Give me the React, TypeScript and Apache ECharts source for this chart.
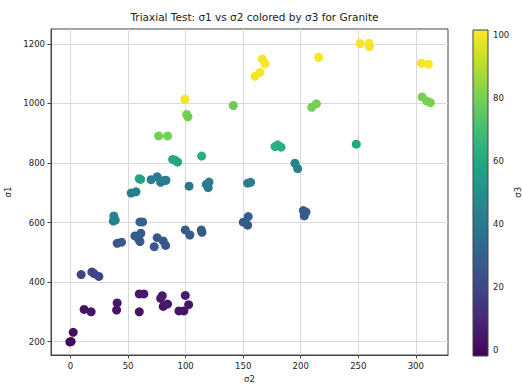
import React, { useEffect, useRef } from "react";
import * as echarts from "echarts";

// Triaxial test results for granite: σ2 (confining, x), σ1 (axial, y), σ3 (colour)
const sigma2: number[] = [
  -0.6, 0.5, 2.3, 11.8, 17.9, 40.5, 40, 59.7, 63.7, 59.7, 78.3, 79.7, 80.5, 84.3, 99.7, 102.6, 94.2, 98.5,
  9.2, 18.5, 20.5, 24.6,
  40.5, 44.3, 55.9, 59.1, 61.1, 60.3, 60.3, 62.6, 75.3, 72.7, 80.5, 82.6, 99.7, 103.7, 113.6, 114.2,
  150.1, 153.9, 154.4, 202.3, 204.6, 203.1,
  37.6, 38.8, 37.1, 52.7, 56.9, 70, 75.3, 78.3, 81.4, 82.9, 103, 118, 120.3, 119.6, 153.9, 156.5, 195, 197.4,
  59.7, 60.9,
  88.7, 91, 93, 113.9, 177.7, 180, 182.9, 248.3,
  76.5, 84.3, 100.9, 102, 141.4, 209.6, 213.6, 305.5, 309.6, 312.7,
  99.4, 166.6, 169, 160.3, 164.6, 215.6, 251.6, 259.4, 259.7, 304.9, 311,
];

const sigma1: number[] = [
  199, 200, 231, 308, 300, 330, 306, 360, 360, 300, 345, 354, 318, 326, 355, 324, 303, 303,
  425, 434, 428, 419,
  530, 534, 555, 545, 564, 536, 602, 602, 549, 519, 538, 523, 575, 558, 575, 567,
  601, 591, 620, 640, 635, 622,
  622, 608, 605, 699, 703, 744, 754, 735, 741, 742, 722, 728, 736, 717, 732, 735, 799, 781,
  747, 745,
  812, 809, 803, 823, 855, 861, 853, 863,
  891, 891, 963, 955, 993, 987, 999, 1022, 1008, 1003,
  1014, 1149, 1133, 1091, 1104, 1155, 1201, 1202, 1191, 1135, 1132,
];

const sigma3: number[] = [
  -1.9, 0, 2, 3, 4, 5, 4, 5, 5, 3, 5, 6, 4, 5, 6, 5, 3, 4,
  18, 20, 20, 19,
  26, 27, 27, 28, 28, 27, 30, 30, 27, 26, 27, 26, 28, 27, 28, 27,
  28, 27, 29, 28, 28, 27,
  44, 43, 43, 42, 42, 42, 42, 41, 42, 42, 40, 41, 42, 40, 41, 42, 45, 44,
  57, 58,
  60, 60, 59, 62, 63, 64, 63, 60,
  80, 80, 80, 79, 78, 80, 80, 80, 81, 81,
  100, 100, 101, 100, 100, 100, 100, 101.5, 100, 100, 101,
];

const xTicks: number[] = [0, 50, 100, 150, 200, 250, 300];
const yTicks: number[] = [200, 400, 600, 800, 1000, 1200];
const cbTicks: number[] = [0, 20, 40, 60, 80, 100];

const viridis: string[] = [
  "#440154", "#482475", "#414487", "#355f8d", "#2a788e", "#21918c",
  "#22a884", "#44bf70", "#7ad151", "#bddf26", "#fde725",
];

const FONT = "DejaVu Sans";

export default function App() {
  const ref = useRef<HTMLDivElement>(null);

  useEffect(() => {
    if (!ref.current) return;
    const chart = echarts.init(ref.current, null, { renderer: "svg" });

    const cMin = Math.min(...sigma3);
    const cMax = Math.max(...sigma3);
    const points = sigma2.map((x, i) => [x, sigma1[i], sigma3[i]]);

    // colour bar geometry (pixels), the tick axis covers 0..100 inside it
    const cbLeft = 473;
    const cbWidth = 15;
    const cbTop = 30;
    const cbBottom = 356;
    const pxPerUnit = (cbBottom - cbTop) / (cMax - cMin);
    const axTop = cbTop + (cMax - 100) * pxPerUnit;
    const axBottom = cbBottom - (0 - cMin) * pxPerUnit;

    const plain = (v: number) => String(v);
    const tickText = { fontFamily: FONT, fontSize: 8.5, color: "#222", formatter: plain };

    chart.setOption({
      animation: false,
      backgroundColor: "#fff",
      title: {
        text: "Triaxial Test: σ1 vs σ2 colored by σ3 for Granite",
        left: 249.5,
        textAlign: "center",
        top: 6,
        textStyle: { fontFamily: FONT, fontSize: 10.5, fontWeight: "normal", color: "#222" },
      },
      grid: [
        {
          left: 51, right: 75, top: 29, bottom: 30,
          containLabel: false,
          outerBoundsMode: "none",
          show: true, borderColor: "#444", borderWidth: 1, backgroundColor: "transparent",
        },
        {
          left: cbLeft, width: cbWidth, top: axTop, height: axBottom - axTop,
          containLabel: false,
          outerBoundsMode: "none",
          show: false,
        },
      ],
      xAxis: [
        {
          gridIndex: 0,
          type: "value",
          min: -17,
          max: 328,
          name: "σ2",
          nameLocation: "middle",
          nameGap: 19,
          nameTextStyle: { fontFamily: FONT, fontSize: 8.5, color: "#222" },
          axisLine: { show: true, onZero: false, lineStyle: { color: "#444" } },
          axisTick: { show: true, length: 3.5, customValues: xTicks, lineStyle: { color: "#444" } },
          axisLabel: { ...tickText, margin: 6, customValues: xTicks },
          splitLine: { show: true, lineStyle: { color: "#d9d9d9", width: 1 } },
        },
        {
          gridIndex: 1,
          type: "value",
          min: 0,
          max: 1,
          show: false,
        },
      ],
      yAxis: [
        {
          gridIndex: 0,
          type: "value",
          min: 155,
          max: 1250,
          name: "σ1",
          nameLocation: "middle",
          nameGap: 33,
          nameRotate: 90,
          nameTextStyle: { fontFamily: FONT, fontSize: 8.5, color: "#222" },
          axisLine: { show: true, onZero: false, lineStyle: { color: "#444" } },
          axisTick: { show: true, length: 3.5, customValues: yTicks, lineStyle: { color: "#444" } },
          axisLabel: { ...tickText, margin: 6, customValues: yTicks },
          splitLine: { show: true, lineStyle: { color: "#d9d9d9", width: 1 } },
        },
        {
          gridIndex: 1,
          type: "value",
          position: "right",
          min: 0,
          max: 100,
          interval: 20,
          name: "σ3",
          nameLocation: "middle",
          nameGap: 14,
          nameRotate: 90,
          nameTextStyle: { fontFamily: FONT, fontSize: 8.5, color: "#222" },
          axisLine: { show: false },
          axisTick: { show: true, length: 3.5, lineStyle: { color: "#444" } },
          axisLabel: { ...tickText, margin: 5, customValues: cbTicks },
          splitLine: { show: false },
        },
      ],
      visualMap: {
        show: false,
        type: "continuous",
        dimension: 2,
        seriesIndex: 0,
        min: cMin,
        max: cMax,
        inRange: { color: viridis },
      },
      graphic: [
        {
          type: "rect",
          shape: { x: cbLeft, y: cbTop, width: cbWidth, height: cbBottom - cbTop },
          style: {
            fill: new echarts.graphic.LinearGradient(
              0, 1, 0, 0,
              viridis.map((c, i) => ({ offset: i / (viridis.length - 1), color: c }))
            ),
            stroke: "#444",
            lineWidth: 1,
          },
          z: 10,
        },
      ],
      series: [
        {
          type: "scatter",
          xAxisIndex: 0,
          yAxisIndex: 0,
          data: points,
          symbol: "circle",
          symbolSize: 9,
          itemStyle: { opacity: 1 },
          z: 5,
        },
      ],
    });

    return () => chart.dispose();
  }, []);

  return <div ref={ref} style={{ width: 523, height: 385, position: "absolute", left: 0, top: 0 }} />;
}
